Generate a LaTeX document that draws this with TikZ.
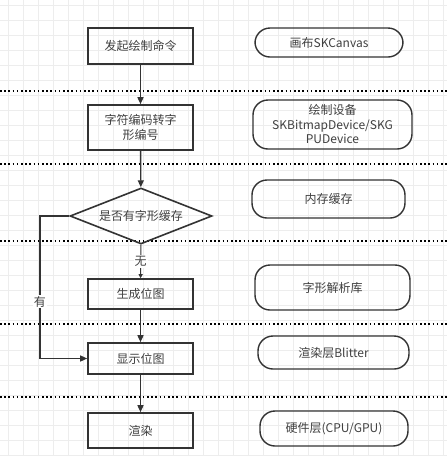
\documentclass[tikz,border=0pt]{standalone}
\usepackage{fontspec}
\setmainfont{Noto Sans CJK SC}
\usetikzlibrary{arrows.meta,shapes.geometric,positioning}
\tikzset{
    step box/.style={
    rectangle,draw=black!80,line width=1.6pt,minimum width=105pt,text=black!75,align=center,font=\fontsize{12}{15}\selectfont
    },
    decide/.style={
    diamond,draw=black!80,line width=1.6pt,aspect=2.55,minimum width=142pt,minimum height=56pt,inner sep=0pt,text=black!75,font=\fontsize{12}{15}\selectfont
    },
    layer/.style={
    rectangle,rounded corners=15pt,draw=black!80,line width=1.4pt,minimum width=150pt,text=black!75,align=center,font=\fontsize{12}{15}\selectfont
    },
    flow/.style={
    -{Triangle[length=7pt,width=6pt]},draw=black!80,line width=1.4pt
    },
    sep line/.style={
    draw=black,line width=1.6pt,dash pattern=on 1.6pt off 2.6pt
    },
    gridline/.style={
    draw=black!7,line width=0.5pt
    },
}
\begin{document}
\begin{tikzpicture}[x=1pt,y=-1pt]
  \useasboundingbox (0,0) rectangle (447,456);
  \fill[white] (0,0) rectangle (447,456);
  % background grid
  \foreach \gx in {8,23,...,447} \draw[gridline] (\gx,0) -- (\gx,456);
  \foreach \gy in {5,20,...,456} \draw[gridline] (0,\gy) -- (447,\gy);
  % layer separators
  \foreach \ly in {91,164,241,324,397} \draw[sep line] (0,\ly) -- (447,\ly);

  % flow chart
  \node[step box,minimum height=36pt] (start) at (140.5,46) {发起绘制命令};
  \node[step box,minimum height=45pt] (encode) at (140.5,127.5) {字符编码转字\\形编号};
  \node[decide] (cache) at (141,216) {是否有字形缓存};
  \node[step box,minimum height=30pt] (gen) at (140.5,294) {生成位图};
  \node[step box,minimum height=31pt] (show) at (140.5,358.5) {显示位图};
  \node[step box,minimum height=35pt] (render) at (140.5,430.5) {渲染};
  \coordinate (loop) at (40,216);

  % layers
  \node[layer,minimum width=148pt,minimum height=29pt] (canvas) at (329,42.5) {画布SKCanvas};
  \node[layer,minimum width=159pt,minimum height=49pt,inner sep=1pt,font=\fontsize{12}{14.5}\selectfont] (device) at (332.5,124.5) {绘制设备\\SKBitmapDevice/SKG\\PUDevice};
  \node[layer,minimum width=153pt,minimum height=38pt] (memory) at (328.5,199) {内存缓存};
  \node[layer,minimum width=155pt,minimum height=45pt] (parser) at (332.5,287.5) {字形解析库};
  \node[layer,minimum width=151pt,minimum height=33pt] (blitter) at (333.5,352.5) {渲染层Blitter};
  \node[layer,minimum width=148pt,minimum height=35pt] (hardware) at (334,428.5) {硬件层(CPU/GPU)};

  \draw[flow] (start) -- (encode);
  \draw[flow] (encode) -- (cache);
  \draw[flow,line width=1pt,-{Triangle[length=4pt,width=4pt]}] (cache) -- node[fill=white,text=black!75,inner sep=1pt,font=\fontsize{12}{15}\selectfont] {无} (gen);
  \draw[flow] (gen) -- (show);
  \draw[flow] (show) -- (render);
  \draw[flow] (cache.west) -- (loop) |- node[pos=0.3,fill=white,text=black!75,inner sep=1pt,font=\fontsize{12}{15}\selectfont] {有} (show.west);
\end{tikzpicture}
\end{document}
